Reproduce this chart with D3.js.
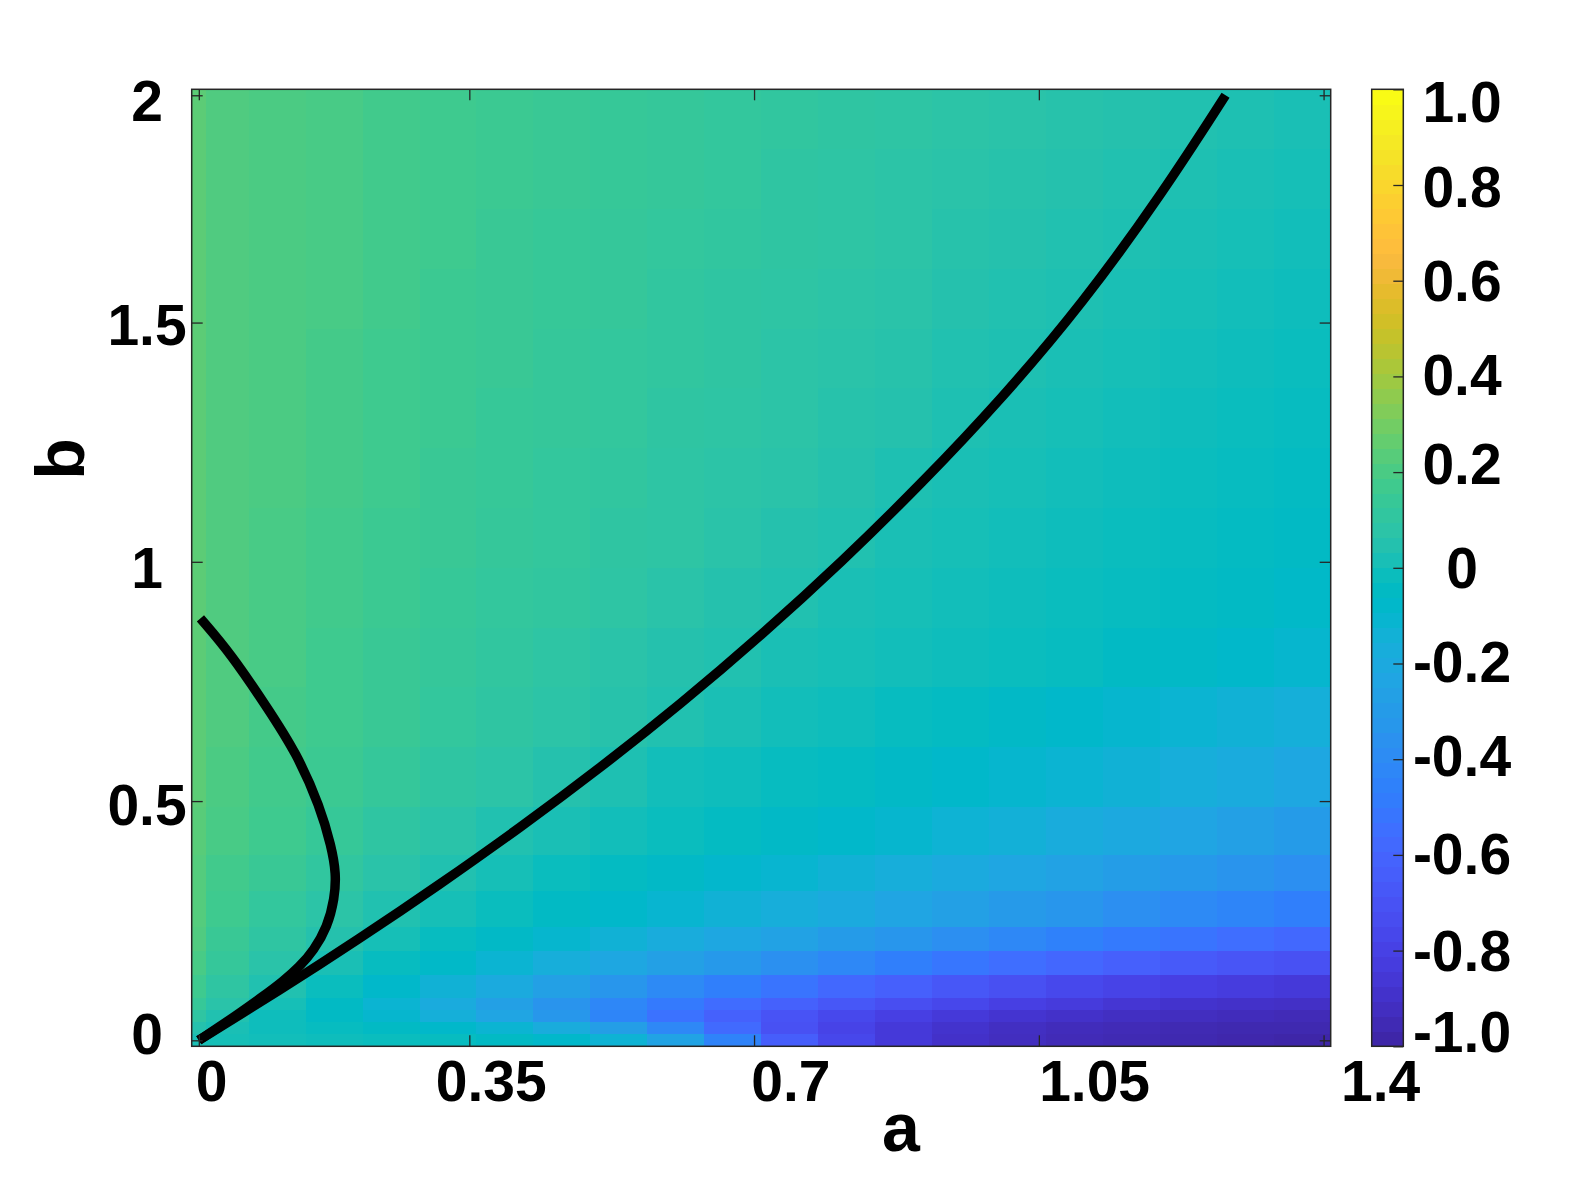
<!DOCTYPE html>
<html>
<head>
<meta charset="utf-8">
<script src="https://cdn.jsdelivr.net/npm/d3@7"></script>
<style>
  body { margin: 0; background: #fff; }
  text { font-family: "Liberation Sans", Arial, sans-serif; font-weight: bold; fill: #000; }
</style>
</head>
<body>
<svg id="chart"></svg>
<script>
// grid: 80 x 80 samples, a = 0..1.4, b = 0..2 (index 1..80)
var nGrid = 80, aMax = 1.4, bMax = 2;

// cell blocks (grid index ranges)
var aCols = [[1,1],[2,4],[5,8],[9,12],[13,16],[17,20],[21,24],[25,28],[29,32],[33,36],[37,40],
             [41,44],[45,48],[49,52],[53,56],[57,60],[61,64],[65,68],[69,72],[73,76],[77,80]];
var bRows = [[76,80],[71,75],[66,70],[61,65],[56,60],[51,55],[46,50],[41,45],[36,40],[31,35],[26,30],
             [21,25],[17,20],[14,16],[11,13],[9,10],[7,8],[5,6],[4,4],[3,3],[2,2],[1,1]];

// values, top row first, one column per aCols entry
var values = [
  [.25,.22,.21,.20,.18,.17,.16,.15,.14,.13,.12,.11,.10,.09,.08,.07,.06,.05,.04,.03,.02],
  [.25,.22,.21,.20,.18,.17,.16,.15,.14,.13,.12,.10,.09,.08,.07,.06,.05,.04,.03,.02,.01],
  [.25,.22,.21,.20,.18,.17,.15,.14,.13,.12,.11,.10,.09,.08,.06,.05,.04,.03,.02,.01,.00],
  [.25,.22,.21,.20,.18,.16,.15,.14,.13,.11,.10,.09,.08,.07,.05,.04,.03,.02,.01,.00,-.01],
  [.25,.22,.21,.19,.17,.16,.15,.13,.12,.11,.10,.08,.07,.06,.04,.03,.02,.01,.00,-.01,-.02],
  [.25,.22,.21,.19,.17,.16,.14,.13,.12,.10,.09,.08,.06,.05,.03,.02,.01,.00,-.01,-.02,-.03],
  [.25,.22,.21,.19,.17,.15,.14,.12,.11,.09,.08,.07,.05,.03,.02,.01,.00,-.01,-.02,-.03,-.04],
  [.25,.22,.20,.18,.16,.15,.13,.12,.10,.09,.07,.05,.04,.02,.01,.00,-.01,-.02,-.03,-.04,-.05],
  [.25,.22,.20,.18,.16,.14,.12,.11,.09,.07,.05,.04,.02,.01,.00,-.01,-.02,-.03,-.04,-.05,-.07],
  [.25,.22,.20,.17,.15,.13,.11,.09,.07,.05,.04,.02,.01,.00,-.01,-.02,-.03,-.05,-.06,-.08,-.10],
  [.25,.22,.19,.17,.15,.12,.10,.08,.06,.04,.02,.00,-.01,-.03,-.04,-.06,-.08,-.10,-.12,-.14,-.16],
  [.25,.21,.18,.16,.13,.10,.08,.05,.03,.00,-.01,-.03,-.04,-.06,-.08,-.10,-.12,-.14,-.17,-.19,-.22],
  [.24,.20,.17,.14,.10,.07,.04,.02,.00,-.02,-.04,-.06,-.08,-.10,-.13,-.15,-.18,-.21,-.24,-.27,-.30],
  [.23,.18,.15,.11,.07,.04,.01,-.02,-.04,-.06,-.09,-.11,-.14,-.17,-.20,-.23,-.26,-.29,-.32,-.35,-.38],
  [.23,.17,.12,.08,.04,.01,-.02,-.05,-.08,-.11,-.14,-.17,-.20,-.24,-.27,-.31,-.34,-.38,-.41,-.44,-.47],
  [.22,.15,.10,.05,.01,-.03,-.06,-.10,-.14,-.18,-.22,-.26,-.30,-.34,-.38,-.42,-.46,-.50,-.53,-.56,-.59],
  [.20,.13,.07,.02,-.03,-.07,-.12,-.17,-.22,-.27,-.32,-.37,-.42,-.47,-.52,-.56,-.60,-.64,-.67,-.70,-.72],
  [.17,.10,.04,-.02,-.08,-.14,-.20,-.27,-.34,-.41,-.47,-.53,-.59,-.64,-.69,-.73,-.77,-.80,-.82,-.84,-.86],
  [.14,.07,.01,-.05,-.12,-.19,-.27,-.35,-.43,-.50,-.57,-.63,-.69,-.74,-.78,-.82,-.85,-.88,-.90,-.91,-.92],
  [.10,.04,-.01,-.05,-.10,-.16,-.24,-.33,-.44,-.54,-.63,-.71,-.77,-.82,-.86,-.89,-.91,-.93,-.94,-.95,-.96],
  [.05,.02,-.01,-.03,-.05,-.08,-.12,-.18,-.28,-.42,-.58,-.72,-.80,-.86,-.90,-.93,-.95,-.96,-.97,-.98,-.98],
  [.02,.01,.00,-.01,-.02,-.03,-.05,-.08,-.13,-.25,-.45,-.65,-.78,-.86,-.91,-.94,-.96,-.97,-.98,-.99,-1.0]
];

// black curves (a, b)
var curveMain = [[0,0],[0.1,0.105],[0.2,0.215],[0.3,0.33],[0.4,0.45],[0.5,0.577],[0.6,0.712],
                 [0.7,0.857],[0.8,1.012],[0.9,1.179],[1.0,1.359],[1.1,1.559],[1.2,1.794],[1.278,2.0]];
var curveLoop = [[0,0],[0.025,0.028],[0.05,0.057],[0.08,0.093],[0.105,0.125],[0.125,0.155],
                 [0.143,0.19],[0.16,0.24],[0.169,0.30],[0.171,0.353],[0.165,0.41],[0.151,0.494],
                 [0.122,0.607],[0.0845,0.706],[0.039,0.82],[0.002,0.893]];

// ticks
var xTicks = [0, 0.3367, 0.6911, 1.0456, 1.4];
var xTickLabels = ["0", "0.35", "0.7", "1.05", "1.4"];
var xLabelPos = [0.016, 0.364, 0.737, 1.115, 1.471];
var yTicks = [0, 0.5063, 1.0127, 1.519, 2];
var yTickLabels = ["0", "0.5", "1", "1.5", "2"];
var yLabelPos = [0.014, 0.5, 1.0, 1.514, 1.99];
var cbTicks = [1, 0.8, 0.6, 0.4, 0.2, 0, -0.2, -0.4, -0.6, -0.8, -1];
var cbTickLabels = ["1.0", "0.8", "0.6", "0.4", "0.2", "0", "-0.2", "-0.4", "-0.6", "-0.8", "-1.0"];
var cbLabelPos = [0.975, 0.796, 0.601, 0.403, 0.217, 0, -0.195, -0.392, -0.596, -0.8, -0.97];

// parula colormap (64)
var parula = [
 [0.2422,0.1504,0.6603],[0.2504,0.1650,0.7076],[0.2578,0.1818,0.7511],[0.2647,0.1978,0.7952],
 [0.2706,0.2147,0.8364],[0.2751,0.2342,0.8710],[0.2783,0.2559,0.8991],[0.2803,0.2782,0.9221],
 [0.2813,0.3006,0.9414],[0.2810,0.3228,0.9579],[0.2795,0.3447,0.9717],[0.2760,0.3667,0.9829],
 [0.2699,0.3892,0.9906],[0.2602,0.4123,0.9952],[0.2440,0.4358,0.9988],[0.2206,0.4603,0.9973],
 [0.1963,0.4847,0.9892],[0.1834,0.5074,0.9798],[0.1786,0.5289,0.9682],[0.1764,0.5499,0.9520],
 [0.1687,0.5703,0.9359],[0.1540,0.5902,0.9218],[0.1460,0.6091,0.9079],[0.1380,0.6276,0.8973],
 [0.1248,0.6459,0.8883],[0.1113,0.6635,0.8763],[0.0952,0.6798,0.8598],[0.0689,0.6948,0.8394],
 [0.0297,0.7082,0.8163],[0.0036,0.7203,0.7917],[0.0067,0.7312,0.7660],[0.0433,0.7411,0.7394],
 [0.0964,0.7500,0.7120],[0.1408,0.7584,0.6842],[0.1717,0.7670,0.6554],[0.1938,0.7758,0.6251],
 [0.2161,0.7843,0.5923],[0.2470,0.7918,0.5567],[0.2906,0.7973,0.5188],[0.3406,0.8008,0.4789],
 [0.3909,0.8029,0.4354],[0.4456,0.8024,0.3909],[0.5044,0.7993,0.3480],[0.5616,0.7942,0.3045],
 [0.6174,0.7876,0.2612],[0.6720,0.7793,0.2227],[0.7242,0.7698,0.1910],[0.7738,0.7598,0.1646],
 [0.8203,0.7498,0.1535],[0.8634,0.7406,0.1596],[0.9035,0.7330,0.1774],[0.9393,0.7288,0.2100],
 [0.9728,0.7298,0.2394],[0.9956,0.7434,0.2371],[0.9970,0.7659,0.2199],[0.9952,0.7893,0.2028],
 [0.9892,0.8136,0.1885],[0.9786,0.8386,0.1766],[0.9676,0.8639,0.1643],[0.9610,0.8890,0.1537],
 [0.9597,0.9135,0.1423],[0.9628,0.9373,0.1265],[0.9691,0.9606,0.1064],[0.9769,0.9839,0.0805]
].map(function(c) { return d3.rgb(c[0]*255, c[1]*255, c[2]*255).toString(); });

var color = d3.scaleSequential(d3.piecewise(d3.interpolateRgb, parula)).domain([-1, 1]).clamp(true);

// layout
var W = 1582, H = 1182,
    plot = {left: 191.7, right: 1330.7, top: 89.3, bottom: 1046.3},
    cb = {left: 1371.7, right: 1403.3},
    tickLen = 11,
    fontSize = 57;

var svg = d3.select("#chart").attr("width", W).attr("height", H);

var da = aMax / (nGrid - 1), db = bMax / (nGrid - 1);
var x = d3.scaleLinear().domain([-0.5 * da, aMax + 0.5 * da]).range([plot.left, plot.right]);
var y = d3.scaleLinear().domain([-0.5 * db, bMax + 0.5 * db]).range([plot.bottom, plot.top]);
var yc = d3.scaleLinear().domain([-1, 1]).range([plot.bottom, plot.top]);

// heatmap cells
var cells = [];
bRows.forEach(function(r, ri) {
  aCols.forEach(function(c, ci) {
    cells.push({a0: (c[0] - 1.5) * da, a1: (c[1] - 0.5) * da,
                b0: (r[0] - 1.5) * db, b1: (r[1] - 0.5) * db, v: values[ri][ci]});
  });
});

svg.append("g").selectAll("rect")
    .data(cells)
  .enter().append("rect")
    .attr("x", function(d) { return x(d.a0); })
    .attr("y", function(d) { return y(d.b1); })
    .attr("width", function(d) { return x(d.a1) - x(d.a0) + 0.5; })
    .attr("height", function(d) { return y(d.b0) - y(d.b1) + 0.5; })
    .attr("fill", function(d) { return color(d.v); })
    .attr("shape-rendering", "crispEdges");

// curves
var line = d3.line()
    .x(function(d) { return x(d[0]); })
    .y(function(d) { return y(d[1]); })
    .curve(d3.curveBasis);

[curveMain, curveLoop].forEach(function(c) {
  svg.append("path")
      .datum(c)
      .attr("d", line)
      .attr("fill", "none")
      .attr("stroke", "#000")
      .attr("stroke-width", 9.5)
      .attr("stroke-linecap", "butt")
      .attr("stroke-linejoin", "round");
});

// inside ticks on all four sides
function ticks(axis, transform) {
  var g = svg.append("g").attr("transform", transform).call(axis);
  g.select(".domain").remove();
  g.selectAll("line").attr("stroke", "#262626").attr("stroke-width", 1.3);
}
ticks(d3.axisBottom(x).tickValues(xTicks).tickSize(-tickLen).tickFormat(""), "translate(0," + plot.bottom + ")");
ticks(d3.axisTop(x).tickValues(xTicks).tickSize(-tickLen).tickFormat(""), "translate(0," + plot.top + ")");
ticks(d3.axisLeft(y).tickValues(yTicks).tickSize(-tickLen).tickFormat(""), "translate(" + plot.left + ",0)");
ticks(d3.axisRight(y).tickValues(yTicks).tickSize(-tickLen).tickFormat(""), "translate(" + plot.right + ",0)");

// axes box
svg.append("rect")
    .attr("x", plot.left).attr("y", plot.top)
    .attr("width", plot.right - plot.left).attr("height", plot.bottom - plot.top)
    .attr("fill", "none").attr("stroke", "#262626").attr("stroke-width", 1.5);

// tick labels
svg.append("g").selectAll("text")
    .data(xTickLabels)
  .enter().append("text")
    .attr("x", function(d, i) { return x(xLabelPos[i]); })
    .attr("y", 1101)
    .attr("text-anchor", "middle")
    .style("font-size", fontSize + "px")
    .text(function(d) { return d; });

svg.append("g").selectAll("text")
    .data(yTickLabels)
  .enter().append("text")
    .attr("x", 147)
    .attr("y", function(d, i) { return y(yLabelPos[i]); })
    .attr("dy", "0.36em")
    .attr("text-anchor", "middle")
    .style("font-size", fontSize + "px")
    .text(function(d) { return d; });

// axis labels
svg.append("text")
    .attr("x", 901).attr("y", 1151)
    .attr("text-anchor", "middle")
    .style("font-size", "68px")
    .text("a");

svg.append("text")
    .attr("transform", "translate(84,459) rotate(-90)")
    .attr("text-anchor", "middle")
    .style("font-size", "68px")
    .text("b");

// colorbar
var bands = d3.range(parula.length);
svg.append("g").selectAll("rect")
    .data(bands)
  .enter().append("rect")
    .attr("x", cb.left)
    .attr("width", cb.right - cb.left)
    .attr("y", function(i) { return yc(-1 + (i + 1) * 2 / parula.length); })
    .attr("height", function(i) { return yc(-1) - yc(-1 + 2 / parula.length) + 0.5; })
    .attr("fill", function(i) { return parula[i]; })
    .attr("shape-rendering", "crispEdges");

ticks(d3.axisRight(yc).tickValues(cbTicks).tickSize(-tickLen + 1).tickFormat(""), "translate(" + cb.right + ",0)");

svg.append("rect")
    .attr("x", cb.left).attr("y", plot.top)
    .attr("width", cb.right - cb.left).attr("height", plot.bottom - plot.top)
    .attr("fill", "none").attr("stroke", "#262626").attr("stroke-width", 1.5);

svg.append("g").selectAll("text")
    .data(cbTickLabels)
  .enter().append("text")
    .attr("x", 1462)
    .attr("y", function(d, i) { return yc(cbLabelPos[i]); })
    .attr("dy", "0.36em")
    .attr("text-anchor", "middle")
    .style("font-size", fontSize + "px")
    .text(function(d) { return d; });
</script>
</body>
</html>
